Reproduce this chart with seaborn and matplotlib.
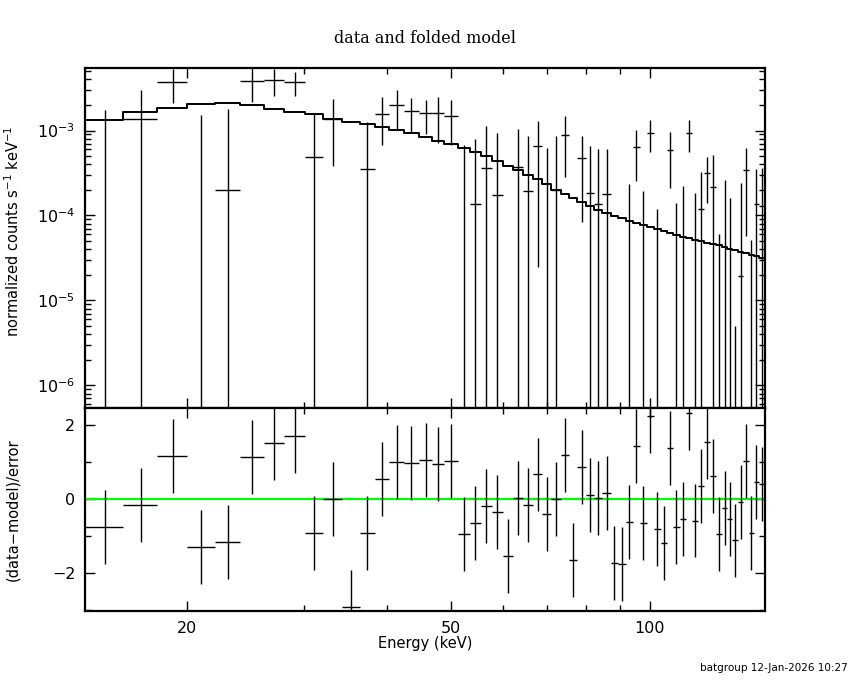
import numpy as np
import pandas as pd
import matplotlib
matplotlib.use("Agg")
import matplotlib.pyplot as plt
import seaborn as sns
from matplotlib.ticker import FixedLocator, FixedFormatter, NullFormatter, LogLocator, MultipleLocator

# ---------------- data ----------------
# channel boundaries, keV
energy_edges = [14.0, 16.0, 18.0, 20.0, 22.0, 24.0, 26.1, 28.0, 30.1, 32.1,
                34.2, 36.4, 38.4, 40.4, 42.5, 44.7, 46.9, 48.9, 51.2, 53.4,
                55.5, 57.7, 59.9, 62.1, 64.4, 66.5, 68.8, 71.0, 73.3, 75.6,
                77.7, 80.1, 82.4, 84.8, 87.2, 89.4, 91.9, 94.3, 96.6, 99.0,
                101.3, 103.8, 106.1, 108.5, 110.9, 113.5, 115.9, 118.3, 120.7, 123.4,
                125.8, 128.6, 130.9, 133.3, 135.8, 138.4, 141.0, 143.6, 146.1, 148.9]

# folded model, 1e-3 counts s^-1 keV^-1
model_rate = [1.326, 1.648, 1.867, 2.048, 2.104, 2.010, 1.803, 1.675, 1.561, 1.374,
              1.256, 1.190, 1.097, 1.011, 0.932, 0.850, 0.762, 0.691, 0.620, 0.556,
              0.499, 0.443, 0.383, 0.344, 0.298, 0.267, 0.233, 0.200, 0.179, 0.161,
              0.143, 0.129, 0.116, 0.106, 0.0995, 0.0934, 0.0868, 0.0809, 0.0766, 0.0726,
              0.0688, 0.0651, 0.0617, 0.0589, 0.0562, 0.0538, 0.0514, 0.0496, 0.0478, 0.0461,
              0.0445, 0.0429, 0.0406, 0.0392, 0.0374, 0.0358, 0.0345, 0.0330, 0.0313]

# data, 1e-3 counts s^-1 keV^-1
data_rate = [-0.08, 1.363, 3.72, -0.25, 0.198, 3.855, 3.93, 3.72, 0.486, 1.374,
             -1.654, 0.351, 1.561, 2.01, 1.694, 1.604, 1.604, 1.479, -0.226, 0.1355,
             0.360, 0.173, -0.841, 0.371, 0.193, 0.655, -0.025, 0.200, 0.883, -0.823,
             0.473, 0.183, 0.135, 0.178, -0.675, -0.694, -0.145, 0.637, -0.133, 0.94,
             -0.15, -0.43, 0.587, -0.18, -0.131, 0.94, -0.134, 0.119, 0.317, 0.219,
             -0.18, -0.022, -0.097, -0.278, 0.0192, 0.344, -0.137, 0.1355, 0.1295]

data_err = [1.83, 1.66, 1.62, 1.78, 1.605, 1.66, 1.41, 1.20, 1.118, 0.99,
            1.00, 0.905, 0.89, 0.99, 0.75, 0.706, 0.89, 0.805, 0.90, 0.663,
            0.776, 0.766, 0.80, 0.675, 0.673, 0.63, 0.645, 0.666, 0.60, 0.60,
            0.39, 0.477, 0.47, 0.426, 0.45, 0.45, 0.38, 0.385, 0.3275, 0.385,
            0.27, 0.42, 0.378, 0.32, 0.354, 0.375, 0.32, 0.209, 0.176, 0.298,
            0.24, 0.283, 0.259, 0.283, 0.224, 0.286, 0.188, 0.22, 0.234]

# (data-model)/error
residual = [-0.75, -0.15, 1.17, -1.29, -1.15, 1.15, 1.52, 1.71, -0.91, 0.00,
            -2.91, -0.91, 0.55, 1.01, 0.98, 1.06, 0.96, 1.04, -0.94, -0.64,
            -0.18, -0.34, -1.53, 0.04, -0.15, 0.67, -0.40, 0.00, 1.20, -1.64,
            0.88, 0.12, 0.04, 0.17, -1.72, -1.75, -0.61, 1.44, -0.64, 2.25,
            -0.80, -1.18, 1.39, -0.75, -0.53, 2.34, -0.58, 0.36, 1.55, 0.63,
            -0.94, -0.23, -0.53, -1.12, -0.07, 1.04, -0.91, 0.47, 0.42]

title_text = "data and folded model"
xlabel_text = "Energy (keV)"
ylabel_top = "normalized counts s$^{-1}$ keV$^{-1}$"
ylabel_bottom = "(data\u2212model)/error"
footer_text = "batgroup 12-Jan-2026 10:27"
xtick_values = [20, 50, 100]
xtick_labels = ["20", "50", "100"]
xminor_values = [30, 40, 60, 70, 80, 90]

# ---------------- derived arrays ----------------
edges = np.array(energy_edges)
e_lo, e_hi = edges[:-1], edges[1:]
e_mid = 0.5 * (e_lo + e_hi)
scale = 1e-3
mod = np.array(model_rate) * scale
dat = np.array(data_rate) * scale
err = np.array(data_err) * scale
res = np.array(residual)

# ---------------- style ----------------
sns.set_theme(style="ticks")
plt.rcParams['font.family'] = ['DejaVu Sans']
plt.rcParams['mathtext.fontset'] = 'dejavusans'
plt.rcParams['text.color'] = 'black'
plt.rcParams['axes.labelcolor'] = 'black'
plt.rcParams['xtick.color'] = 'black'
plt.rcParams['ytick.color'] = 'black'

fig = plt.figure(figsize=(8.5, 6.8), dpi=100)
ax1 = fig.add_axes([0.1, 0.4, 0.8, 0.5])
ax2 = fig.add_axes([0.1, 0.1015, 0.8, 0.2985], sharex=ax1)

for ax in (ax1, ax2):
    ax.set_facecolor("white")
    ax.set_xscale("log")
ax1.set_yscale("log")

# ---------------- top panel ----------------
step_df = pd.DataFrame({"energy": edges, "rate": np.append(mod, mod[-1])})
sns.lineplot(data=step_df, x="energy", y="rate", ax=ax1, estimator=None,
             color="black", linewidth=1.4, drawstyle="steps-post", sort=True)

hi = dat + err
lo = dat - err
draw_v = hi > 0
lo_clip = np.where(lo > 0, lo, 1e-12)
ax1.vlines(e_mid[draw_v], lo_clip[draw_v], hi[draw_v], colors="black", linewidth=1.0)
pos = dat > 0
ax1.hlines(dat[pos], e_lo[pos], e_hi[pos], colors="black", linewidth=1.0)

ax1.set_ylim(5.4e-7, 5.45e-3)
ax1.set_xlim(14.0, 149.3)

# ---------------- bottom panel ----------------
ax2.axhline(0, color="#00ff00", linewidth=1.6, zorder=1)
ax2.vlines(e_mid, res - 1, res + 1, colors="black", linewidth=1.0, zorder=2)
ax2.hlines(res, e_lo, e_hi, colors="black", linewidth=1.0, zorder=2)
ax2.set_ylim(-3.03, 2.47)

# ---------------- axes cosmetics ----------------
ax2.xaxis.set_major_locator(FixedLocator(xtick_values))
ax2.xaxis.set_major_formatter(FixedFormatter(xtick_labels))
ax2.xaxis.set_minor_locator(FixedLocator(xminor_values))
ax2.xaxis.set_minor_formatter(NullFormatter())

ax1.yaxis.set_major_locator(LogLocator(base=10, numticks=20))
ax1.yaxis.set_minor_locator(LogLocator(base=10, subs=np.arange(2, 10), numticks=20))
ax1.yaxis.set_minor_formatter(NullFormatter())

ax2.yaxis.set_major_locator(MultipleLocator(2))
ax2.yaxis.set_minor_locator(MultipleLocator(1))

for ax in (ax1, ax2):
    ax.tick_params(which="both", direction="in", top=True, right=True,
                   color="black", labelcolor="black", labelsize=11.5)
    ax.tick_params(which="major", length=7, width=1.0, pad=7)
    ax.tick_params(which="minor", length=4, width=1.0)
    for sp in ax.spines.values():
        sp.set_color("black")
        sp.set_linewidth(1.6)
    ax.set_xlabel("")
    ax.set_ylabel("")
    ax.grid(False)
ax1.tick_params(labelbottom=False)

# ---------------- text ----------------
fig.text(0.5, 0.944, title_text, ha="center", va="center", color="black",
         family=["DejaVu Serif"], fontsize=11.5)
fig.text(0.5, 0.054, xlabel_text, ha="center", va="center", color="black", fontsize=10.5)
fig.text(0.015, 0.66, ylabel_top, ha="center", va="center", rotation=90,
         color="black", fontsize=10.5)
fig.text(0.015, 0.25, ylabel_bottom, ha="center", va="center", rotation=90,
         color="black", fontsize=10.5)
fig.text(0.997, 0.018, footer_text, ha="right", va="center", color="black", fontsize=7.5)

fig.savefig("out.png", dpi=100, facecolor="white")
